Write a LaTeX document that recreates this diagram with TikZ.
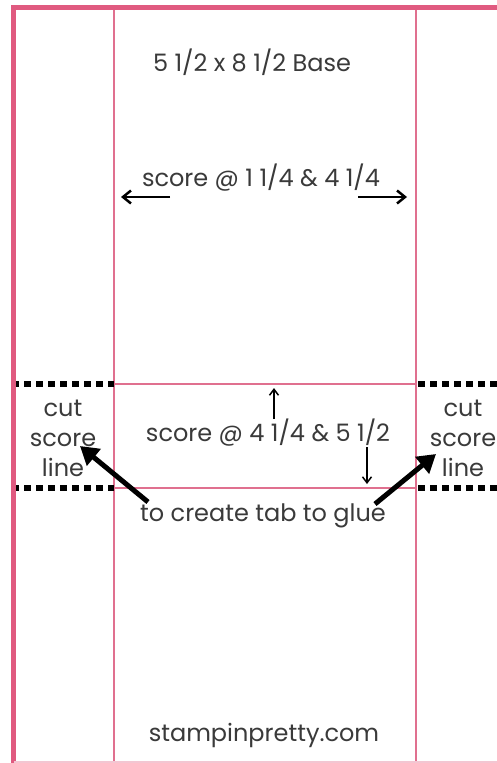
\documentclass[tikz,border=0pt]{standalone}
\usepackage{fontspec}
\setmainfont{Poppins}
\usetikzlibrary{arrows.meta}
\definecolor{border}{HTML}{E05A80}
\definecolor{inner}{HTML}{E0708F}
\definecolor{txt}{HTML}{3A3A3A}
\tikzset{
  frame/.style={draw=border, line width=5pt},
  fold/.style={draw=inner, line width=2pt},
  cutline/.style={draw=black, line width=6.5pt, dash pattern=on 7pt off 5pt},
  lbl/.style={text=txt, font=\fontsize{24}{30}\selectfont, inner sep=0pt},
  bigarrow/.style={draw=black, line width=5pt, -{Triangle[length=18pt,width=21pt]}},
  midarrow/.style={draw=black, line width=2.5pt, -{Straight Barb[length=8pt,width=13pt]}},
  thinarrow/.style={draw=black, line width=1.5pt, -{Straight Barb[length=6pt,width=9pt]}}
}
\begin{document}
\begin{tikzpicture}[x=1pt,y=-1pt]
\useasboundingbox (0,0) rectangle (496,763);
\fill[white] (0,0) rectangle (496,763);
% folds
\draw[fold] (114,8) -- (114,763);
\draw[fold] (416,8) -- (416,763);
\draw[fold] (114,384) -- (416,384);
\draw[fold] (114,488) -- (416,488);
% cut lines
\draw[cutline] (12,384) -- (114,384);
\draw[cutline] (12,488) -- (114,488);
\draw[cutline] (418,384) -- (500,384);
\draw[cutline] (418,488) -- (500,488);
% outer frame
\draw[frame] (13.5,7.5) -- (13.5,765);
\draw[frame] (11,7.5) -- (500,7.5);
\draw[draw=inner!40, line width=2pt] (14,762) -- (500,762);
% texts
\node[lbl] (base) at (252,62) {5 1/2 x 8 1/2 Base};
\node[lbl] (s1) at (261,178) {score @ 1 1/4 \& 4 1/4};
\node[lbl] (s2) at (268,433) {score @ 4 1/4 \& 5 1/2};
\node[lbl, align=center] (cl) at (63,438) {cut\\score\\line};
\node[lbl, align=center] (cr) at (463,438) {cut\\score\\line};
\node[lbl] (tab) at (263,516) {to create tab to glue};
\node[lbl] (site) at (264,735) {stampinpretty.com};
% arrows
\coordinate (la0) at (170,197); \coordinate (la1) at (121,197);
\coordinate (ra0) at (358,197); \coordinate (ra1) at (407,197);
\draw[midarrow] (la0) -- (la1);
\draw[midarrow] (ra0) -- (ra1);
\coordinate (ua0) at (274,419); \coordinate (ua1) at (274,388);
\coordinate (da0) at (367,447); \coordinate (da1) at (367,484);
\draw[thinarrow] (ua0) -- (ua1);
\draw[thinarrow] (da0) -- (da1);
\coordinate (bl0) at (148,502); \coordinate (bl1) at (80,446);
\coordinate (br0) at (375,504); \coordinate (br1) at (436,454);
\draw[bigarrow] (bl0) -- (bl1);
\draw[bigarrow] (br0) -- (br1);
\end{tikzpicture}
\end{document}
